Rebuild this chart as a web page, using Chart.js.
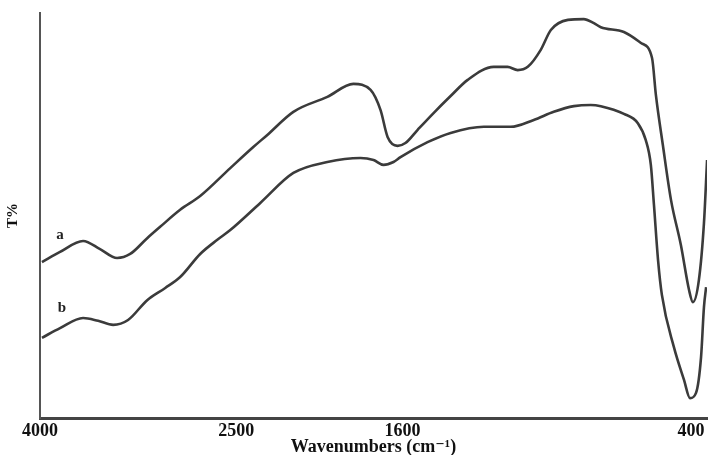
<!DOCTYPE html>
<html>
<head>
<meta charset="utf-8">
<script src="https://cdn.jsdelivr.net/npm/chart.js@4"></script>
<style>
  html, body { margin: 0; padding: 0; background: #fff; }
  #wrap { width: 711px; height: 455px; position: relative; }
</style>
</head>
<body>
<div id="wrap"><canvas id="c"></canvas></div>
<script>
// ---- data (wavenumber cm-1, transmittance in arbitrary % units) ----
const waveA = [3985,3847,3671,3541,3411,3311,3181,3082,2929,2776,2546,2408,2332,2191,2007,1866,1773,1719,1681,1627,1588,1538,1471,1400,1329,1221,1163,1121,1079,1025,983,912,846,804,775,679,608,562,546,517,483,442,408,392,367,346,333];
const transA = [38.5,41.0,43.7,41.7,39.5,40.5,44.4,47.2,51.4,54.8,61.7,66.9,69.9,75.6,79.3,82.5,81.0,76.0,69.4,67.2,67.9,71.1,75.3,79.5,83.5,86.7,86.7,85.9,86.7,90.9,95.8,98.3,98.5,97.5,96.5,95.3,92.6,88.9,79.8,67.4,53.8,42.7,31.6,28.6,34.1,48.1,63.7];

const waveB = [3985,3847,3671,3556,3441,3327,3181,3043,2929,2776,2645,2546,2370,2191,2007,1828,1757,1703,1649,1611,1496,1400,1262,1150,1054,971,887,817,775,679,621,588,567,554,537,521,471,429,404,379,358,346,337];
const transB = [19.8,22.2,24.7,24.0,23.0,24.2,29.1,32.1,34.8,40.5,44.0,46.4,53.1,60.5,63.2,64.2,63.7,62.5,63.2,64.4,68.1,70.4,71.9,71.9,73.6,75.6,77.0,77.3,77.0,75.1,72.8,68.6,62.5,52.6,39.0,30.4,17.5,9.4,4.9,6.2,15.1,27.4,32.3];

const tickWavenumbers = [4000, 2500, 1600, 400];
const tickLabels = ['4000', '2500', '1600', '400'];
const seriesNames = ['a', 'b'];
const seriesLabelWave = [3847, 3832];
const seriesLabelT = [45.2, 27.2];

// ---- piecewise axis stretch (spectrometer style scale change) ----
const segWidths = [196, 166, 288]; // relative widths of 4000-2500, 2500-1600, 1600-400
function pos(w) {
  let acc = 0;
  for (let i = 0; i < tickWavenumbers.length - 1; i++) {
    const hi = tickWavenumbers[i], lo = tickWavenumbers[i + 1];
    if (w >= lo || i === tickWavenumbers.length - 2) {
      return acc + (hi - w) / (hi - lo) * segWidths[i];
    }
    acc += segWidths[i];
  }
  return acc;
}
const tickPos = tickWavenumbers.map(pos);

const lineColor = '#3b3b3b';
const serif = "'Liberation Serif', 'DejaVu Serif', serif";

const labelPlugin = {
  id: 'seriesLabels',
  afterDatasetsDraw(chart) {
    const ctx = chart.ctx, xs = chart.scales.x, ys = chart.scales.y;
    ctx.save();
    ctx.fillStyle = '#222';
    ctx.font = "bold 15px " + serif;
    ctx.textAlign = 'center';
    ctx.textBaseline = 'middle';
    seriesNames.forEach((n, i) => {
      ctx.fillText(n, xs.getPixelForValue(pos(seriesLabelWave[i])), ys.getPixelForValue(seriesLabelT[i]));
    });
    ctx.restore();
  }
};

new Chart(document.getElementById('c'), {
  type: 'line',
  data: {
    datasets: [
      { label: 'a', data: waveA.map((w, i) => ({ x: pos(w), y: transA[i] })) },
      { label: 'b', data: waveB.map((w, i) => ({ x: pos(w), y: transB[i] })) }
    ].map(d => Object.assign(d, {
      borderColor: lineColor, borderWidth: 2.6, pointRadius: 0,
      cubicInterpolationMode: 'monotone', fill: false
    }))
  },
  options: {
    responsive: true,
    maintainAspectRatio: false,
    animation: false,
    layout: { padding: { top: 13, right: 4, left: 0, bottom: 0 } },
    plugins: { legend: { display: false }, tooltip: { enabled: false } },
    scales: {
      x: {
        type: 'linear',
        min: 0,
        max: 666,
        grid: { display: false, drawTicks: false },
        border: { display: true, color: '#444', width: 3 },
        afterBuildTicks: s => { s.ticks = tickPos.map(v => ({ value: v })); },
        afterFit: s => { s.height = 37; },
        ticks: {
          autoSkip: false,
          maxRotation: 0,
          padding: 3,
          color: '#111',
          font: { family: serif, size: 18, weight: 'bold' },
          callback: (v) => { const k = tickPos.findIndex(p => Math.abs(p - v) < 0.5); return k >= 0 ? tickLabels[k] : ''; }
        },
        title: {
          display: true,
          text: 'Wavenumbers (cm⁻¹)',
          color: '#111',
          font: { family: serif, size: 18, weight: 'bold', lineHeight: 0.8 },
          padding: { top: 0, bottom: 0 }
        }
      },
      y: {
        min: 0,
        max: 100,
        grid: { display: false, drawTicks: false },
        border: { display: true, color: '#555', width: 2 },
        ticks: { display: false },
        afterFit: s => { s.width = 40; },
        title: {
          display: true,
          text: 'T%',
          color: '#111',
          font: { family: serif, size: 15, weight: 'bold' },
          padding: { top: 4, bottom: 0 }
        }
      }
    }
  },
  plugins: [labelPlugin]
});
</script>
</body>
</html>
